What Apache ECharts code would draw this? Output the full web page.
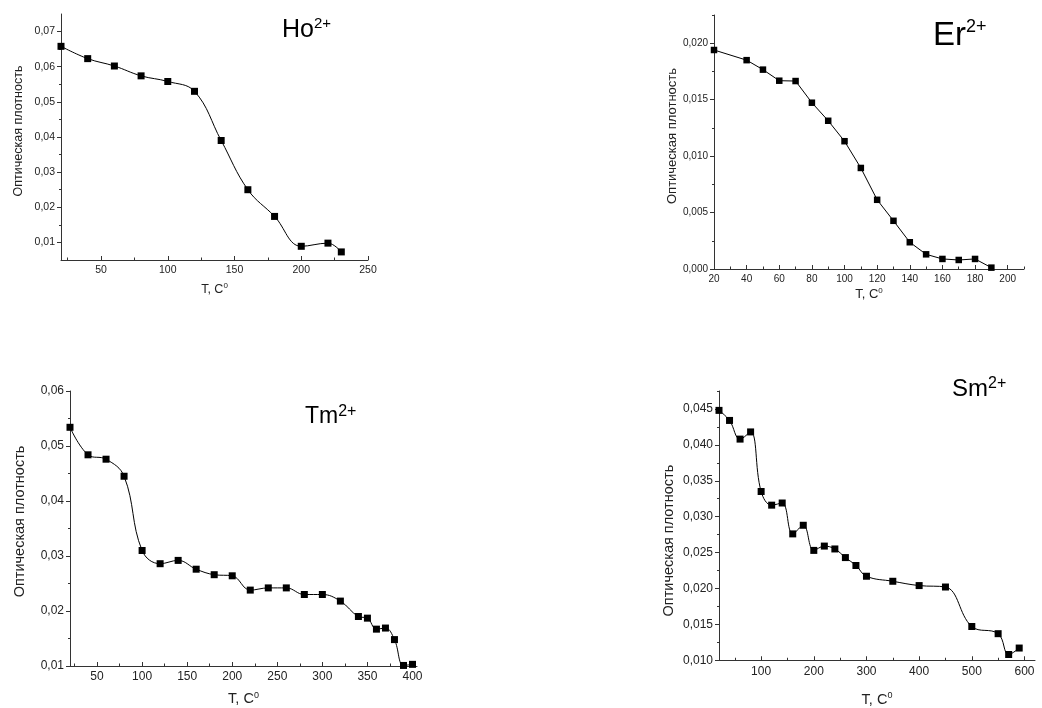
<!DOCTYPE html>
<html><head><meta charset="utf-8">
<script src="https://cdn.jsdelivr.net/npm/echarts@6/dist/echarts.min.js"></script>
<style>html,body{margin:0;padding:0;background:#fff}#c{width:1042px;height:708px}</style>
</head><body><div id="c"></div>
<script>
// ---- Data ----
const hoT = [20,40,60,80,100,120,140,160,180,200,220,230];
const hoD = [0.0658,0.0623,0.0602,0.0574,0.0558,0.0530,0.0390,0.0250,0.0174,0.0089,0.0098,0.0073];

const erT = [20,40,50,60,70,80,90,100,110,120,130,140,150,160,170,180,190];
const erD = [0.0194,0.0185,0.01766,0.01668,0.01665,0.01473,0.01313,0.01132,0.00895,0.00613,0.00427,0.00237,0.0013,0.00089,0.0008,0.00089,0.00012];

const tmT = [20,40,60,80,100,120,140,160,180,200,220,240,260,280,300,320,340,350,360,370,380,390,400];
const tmD = [0.0534,0.0484,0.0476,0.0445,0.0310,0.0286,0.0292,0.0276,0.0266,0.0264,0.0238,0.0242,0.0242,0.0230,0.0230,0.0218,0.0190,0.0187,0.0167,0.0169,0.0148,0.0101,0.0103];

const smT = [20,40,60,80,100,120,140,160,180,200,220,240,260,280,300,350,400,450,500,550,570,590];
const smD = [0.0448,0.0434,0.0408,0.0418,0.0335,0.0316,0.0319,0.0276,0.0288,0.0253,0.0259,0.0255,0.0243,0.0232,0.0217,0.0210,0.0204,0.0202,0.0147,0.0137,0.0108,0.0117];

// ---- Tick values ----
const hoXTicks = [50,100,150,200,250];
const hoXMinor = [25,75,125,175,225];
const hoYTicks = [0.01,0.02,0.03,0.04,0.05,0.06,0.07];
const hoYMinor = [0.015,0.025,0.035,0.045,0.055,0.065];

const erXTicks = [20,40,60,80,100,120,140,160,180,200];
const erXMinor = [30,50,70,90,110,130,150,170,190,210];
const erYTicks = [0,0.005,0.010,0.015,0.020];
const erYMinor = [0.0025,0.0075,0.0125,0.0175,0.0225];

const tmXTicks = [50,100,150,200,250,300,350,400];
const tmXMinor = [25,75,125,175,225,275,325,375];
const tmYTicks = [0.01,0.02,0.03,0.04,0.05,0.06];
const tmYMinor = [0.015,0.025,0.035,0.045,0.055];

const smXTicks = [100,200,300,400,500,600];
const smXMinor = [50,150,250,350,450,550];
const smYTicks = [0.010,0.015,0.020,0.025,0.030,0.035,0.040,0.045];
const smYMinor = [0.0125,0.0175,0.0225,0.0275,0.0325,0.0375,0.0425,0.0475];

const yName = 'Оптическая плотность';
const FONT = '"Liberation Sans", Arial, sans-serif';
const INK = '#222';

function fmt(dec){ return v => v.toFixed(dec).replace('.', ','); }

const grids = [], xAxes = [], yAxes = [], series = [], titles = [];

function panel(p){
  const gi = grids.length;
  grids.push({left:p.left, top:p.top, width:p.width, height:p.height, containLabel:false});
  const xi = xAxes.length, yi = yAxes.length;
  const sfs = Math.round(p.nfs*0.65);
  xAxes.push({
    type:'value', gridIndex:gi, position:'bottom', min:p.xmin, max:p.xmax,
    axisLine:{show:true, onZero:false, lineStyle:{color:'#333', width:1}},
    axisTick:{show:true, inside:true, length:4, customValues:p.xt, lineStyle:{color:'#333'}},
    axisLabel:{customValues:p.xt, margin:p.xlm, color:INK, fontSize:p.tfs, fontFamily:FONT},
    splitLine:{show:false},
    name:'{a|T, C}{s|0}', nameLocation:'middle', nameGap:p.xng,
    nameTextStyle:{fontFamily:FONT, color:INK, rich:{
      a:{fontSize:p.nfs, fontFamily:FONT, color:INK, lineHeight:p.nfs+2},
      s:{fontSize:sfs, fontFamily:FONT, color:INK, verticalAlign:'top', lineHeight:sfs}
    }}
  });
  xAxes.push({
    type:'value', gridIndex:gi, position:'bottom', offset:0, min:p.xmin, max:p.xmax,
    axisLine:{show:false}, axisLabel:{show:false}, splitLine:{show:false},
    axisTick:{show:true, inside:true, length:2.5, customValues:p.xm, lineStyle:{color:'#333'}}
  });
  yAxes.push({
    type:'value', gridIndex:gi, position:'left', min:p.ymin, max:p.ymax,
    axisLine:{show:true, onZero:false, lineStyle:{color:'#333', width:1}},
    axisTick:{show:true, inside:false, length:4, customValues:p.yt, lineStyle:{color:'#333'}},
    axisLabel:{customValues:p.yt, formatter:fmt(p.dec), margin:p.ylm, color:INK, fontSize:p.tfs, fontFamily:FONT},
    splitLine:{show:false},
    name:yName, nameLocation:'middle', nameGap:p.yng, nameRotate:90,
    nameTextStyle:{fontSize:p.nfs, fontFamily:FONT, color:INK, padding:p.ypad}
  });
  yAxes.push({
    type:'value', gridIndex:gi, position:'left', offset:0, min:p.ymin, max:p.ymax,
    axisLine:{show:false}, axisLabel:{show:false}, splitLine:{show:false},
    axisTick:{show:true, inside:false, length:2, customValues:p.ym, lineStyle:{color:'#333'}}
  });
  series.push({
    type:'line', xAxisIndex:xi, yAxisIndex:yi,
    data:p.t.map((t,i)=>[t,p.d[i]]),
    smooth:p.smooth, symbol:'rect', symbolSize:p.ss, showAllSymbol:true,
    lineStyle:{color:'#000', width:1}, itemStyle:{color:'#000'},
    animation:false, silent:true
  });
  titles.push({
    text:'{b|'+p.label+'}{s|2+}', left:p.tl, top:p.tt, padding:0,
    textStyle:{fontWeight:'normal', rich:{
      b:{fontSize:p.lfs, fontFamily:FONT, fontWeight:'normal', color:'#000', lineHeight:p.llh},
      s:{fontSize:p.sfs, fontFamily:FONT, fontWeight:'normal', color:'#000', verticalAlign:'top', lineHeight:p.sfs}
    }}
  });
}

panel({left:61, top:14, width:307, height:246, xmin:20, xmax:250, ymin:0.005, ymax:0.075,
  xt:hoXTicks, xm:hoXMinor, yt:hoYTicks, ym:hoYMinor, dec:2, t:hoT, d:hoD, smooth:0.4, ss:7,
  tfs:10.5, nfs:12.5, xlm:5, ylm:6, xng:22, yng:36, ypad:[0,0,0,12],
  label:'Ho', tl:282, tt:16, lfs:25, llh:28, sfs:15});

panel({left:714, top:15, width:310, height:254, xmin:20, xmax:210, ymin:0, ymax:0.0225,
  xt:erXTicks, xm:erXMinor, yt:erYTicks, ym:erYMinor, dec:3, t:erT, d:erD, smooth:false, ss:6.5,
  tfs:10, nfs:13, xlm:5, ylm:6, xng:18, yng:34, ypad:[0,0,0,12],
  label:'Er', tl:933, tt:18, lfs:33, llh:36, sfs:18});

panel({left:70, top:391, width:347, height:275, xmin:20, xmax:405, ymin:0.01, ymax:0.06,
  xt:tmXTicks, xm:tmXMinor, yt:tmYTicks, ym:tmYMinor, dec:2, t:tmT, d:tmD, smooth:0.4, ss:7,
  tfs:12, nfs:14.5, xlm:5, ylm:6, xng:25, yng:43, ypad:[0,0,0,14],
  label:'Tm', tl:305, tt:404, lfs:23, llh:26, sfs:16});

panel({left:719, top:391, width:316, height:270, xmin:20, xmax:620, ymin:0.010, ymax:0.0475,
  xt:smXTicks, xm:smXMinor, yt:smYTicks, ym:smYMinor, dec:3, t:smT, d:smD, smooth:0.4, ss:7,
  tfs:12, nfs:14.5, xlm:5, ylm:6, xng:31, yng:43, ypad:[0,30,0,0],
  label:'Sm', tl:952, tt:376, lfs:24, llh:26, sfs:16});

const chart = echarts.init(document.getElementById('c'), null, {renderer:'canvas'});
chart.setOption({
  backgroundColor:'#fff', animation:false,
  title:titles, grid:grids, xAxis:xAxes, yAxis:yAxes, series:series
});
</script>
</body></html>
